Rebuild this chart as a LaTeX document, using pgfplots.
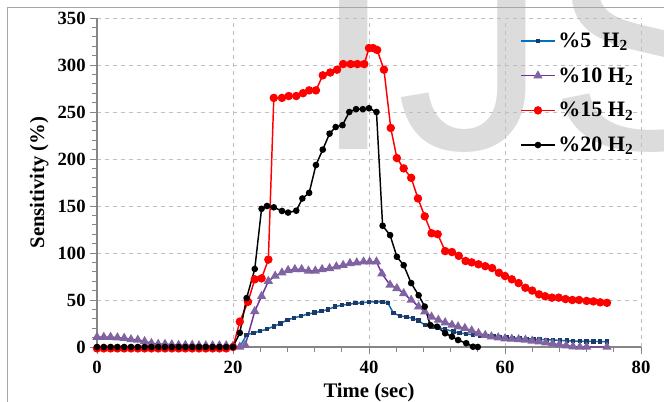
\documentclass[border=0pt]{standalone}
\usepackage{fontspec}
\setmainfont{Liberation Serif}
\setsansfont{Liberation Sans}
\usepackage{pgfplots}
\pgfplotsset{compat=1.18}
\definecolor{cblue}{HTML}{0070C0}
\definecolor{cnavy}{HTML}{1F3864}
\definecolor{cpurple}{HTML}{7030A0}
\definecolor{ctri}{HTML}{8064A2}
\definecolor{cgrid}{HTML}{BFBFBF}
\definecolor{caxis}{HTML}{868686}
\definecolor{cmark}{HTML}{DCDCDC}

\begin{document}
\begin{tikzpicture}
\useasboundingbox (0,0) rectangle (498pt,301.5pt);
% watermark behind the chart
\node[anchor=base west, inner sep=0pt, text=cmark,
      font=\fontsize{228}{228}\selectfont\sffamily] at (233.5pt,189pt) {IJS};
\draw[gray!70, line width=0.6pt] (5.25pt,-10pt) -- (5.25pt,296.25pt) -- (510pt,296.25pt);

\begin{axis}[
    at={(72.75pt,41.25pt)}, anchor=south west,
    scale only axis,
    width=408pt, height=246.75pt,
    xmin=0, xmax=80, ymin=0, ymax=350,
    xtick={0,20,...,80}, ytick={0,50,...,350},
    minor x tick num=4, minor y tick num=4,
    axis lines*=left,
    axis line style={caxis, line width=0.8pt, -},
    tick style={caxis, line width=0.6pt},
    tick align=outside,
    major tick length=5pt, minor tick length=3.5pt,
    grid=major,
    major grid style={cgrid, dashed, line width=0.5pt},
    clip=false,
    /pgf/number format/assume math mode=true,
    every tick label/.append style={font=\fontsize{14}{14}\selectfont\bfseries},
    xticklabel style={yshift=-2pt},
    xlabel={Time (sec)}, ylabel={Sensitivity (\%)},
    label style={font=\fontsize{15.5}{16}\selectfont\bfseries},
    xlabel style={yshift=0pt},
    legend cell align=left,
    legend style={at={(0.77,0.972)}, anchor=north west, draw=none, fill=none,
        font=\fontsize{16.5}{17}\selectfont\bfseries, row sep=9.5pt},
    legend image code/.code={\draw[mark repeat=2, mark phase=2]
        plot coordinates {(0cm,0cm) (0.45cm,0cm) (0.9cm,0cm)};},
]
% %5 H2
\addplot[cblue, line width=1.1pt, mark=square*, mark size=1.1pt, mark options={cnavy, solid}]
coordinates {
(0,0) (1,0) (2,0) (3,0) (4,0) (5,0) (6,0) (7,0) (8,0) (9,0) (10,0)
(11,0) (12,0) (13,0) (14,0) (15,0) (16,0) (17,0) (18,0) (19,0) (20,0) (21,0)
(22,13) (23,15) (24,17) (25,19) (26,22) (27,25) (28,29) (29,31) (30,33)
(31,35) (32,36.5) (33,38) (34,40) (35,43) (36,44.5) (37,45.5) (38,46.5)
(39,47) (40,48) (41,48) (42,48) (42.8,46.5) (43.6,36) (44.6,33) (45.5,32)
(46.5,30.5) (47.3,28) (48.2,23.4) (49.2,21.6) (50.2,20.5) (51.2,19)
(52.4,16.3) (53.3,15) (54.3,14) (55.3,12.8) (56.3,12) (57.3,11.5)
(58.3,11) (59.2,10.5) (60.2,10) (61.2,9.6) (62.2,9.2) (63.2,8.8)
(64.2,8.4) (65.1,8) (66.1,7.7) (67.1,7.4) (68.1,7) (69.1,6.7) (70,6.4)
(71,6.2) (72,6) (73,5.9) (74,5.8) (75,5.7)
};
\addlegendentry{\%5\ \ H\textsubscript{2}}
% %10 H2
\addplot[cpurple, line width=1.1pt, mark=triangle*, mark size=3pt, mark options={ctri, solid}]
coordinates {
(0,10.5) (1,10.5) (2,10.5) (3,10) (4,9.5) (5,8) (6,7.5) (7,6) (8,4)
(9,3) (10,3) (11,2.5) (12,2) (13,2) (14,2) (15,1.5) (16,1.5) (17,1.5)
(18,1.5) (19,1.5) (20,1) (21,0) (21.8,2) (23.2,38) (24.2,54) (25.2,70)
(26.2,75.6) (27.2,79) (28.1,81.6) (29.1,82.6) (30.1,82.6) (31.1,81)
(32.1,81) (33.1,82.6) (34.2,83.7) (35.2,85.5) (36.2,87) (37.2,89)
(38.2,89.7) (39.2,90.7) (40.1,90.7) (41.1,90.7) (41.9,78) (43.1,66)
(44.1,62.4) (45.1,57) (46.2,50) (47.3,43) (48.2,37.6) (49.2,32)
(50.2,28.7) (51.2,26) (52.2,23.4) (53.1,21.6) (54.1,20) (55.1,17.4)
(56.1,14.6) (57.1,12.5) (58,11) (59,10) (60,9) (61,8.5) (62,8) (63,7.5)
(64,6.5) (65,5.6) (66,4.5) (67,3.5) (68,2.5) (69,1.5) (70,0.5) (71,0)
(72,0) (75,0)
};
\addlegendentry{\%10 H\textsubscript{2}}
% %15 H2
\addplot[red, line width=1.1pt, mark=*, mark size=2.6pt, mark options={solid}]
coordinates {
(0,-1.5) (1,-1.5) (2,-1.5) (3,-1.5) (4,-1.5) (5,-1.5) (6,-1.5) (7,-1.5)
(8,-1.5) (9,-1.5) (10,-1.5) (11,-1.5) (12,-1.5) (13,-1.5) (14,-1.5)
(15,-1.5) (16,-1.5) (17,-1.5) (18,-1.5) (19,-1.5) (20,0) (21,27)
(22.2,48) (23.2,72) (24.2,73) (25.2,93) (26,265) (27.2,265) (28.2,267)
(29.3,267) (30.3,270) (31.2,273) (32.2,273) (33.2,289) (34.3,292)
(35.3,295) (36.2,301) (37.3,301) (38.3,301) (39.3,301) (40,318)
(40.6,318) (41.2,316) (42.2,295) (43.2,233) (44.1,201) (45.1,190)
(46.2,180) (47.2,158) (48.2,139) (49.2,121) (50.1,120) (51.2,102)
(52.2,101) (53.2,97) (54.2,91.5) (55.1,90) (56.1,88) (57.1,86) (58.1,84)
(59.1,79) (60,75.5) (61,72) (62,68) (63,63) (64,60) (65,56) (65.9,54)
(66.9,52.5) (67.9,52.5) (68.9,51) (69.9,50) (70.9,50) (72,49) (73,48.5)
(74,47.5) (75,47)
};
\addlegendentry{\%15 H\textsubscript{2}}
% %20 H2
\addplot[black, line width=1.1pt, mark=*, mark size=1.9pt, mark options={solid}]
coordinates {
(0,0) (1,0) (2,0) (3,0) (4,0) (5,0) (6,0) (7,0) (8,0) (9,0) (10,0)
(11,0) (12,0) (13,0) (14,0) (15,0) (16,0) (17,0) (18,0) (19,0) (20,0)
(21,15) (22,52) (23.2,83) (24.2,147) (25,150) (26,148.6) (27.2,144.7)
(28.1,143) (29.3,145) (30.2,158) (31.2,164) (32.2,193.6) (33.2,210)
(34.2,227) (35.1,234) (36.1,236) (37.1,250) (38.1,253) (39.1,253)
(40,254) (41.1,250) (42,129) (43.1,119) (44.1,96) (45.1,87) (46.2,68)
(47.3,55) (48.2,43) (49,23.4) (50,21.6) (51.2,14.6) (52.2,11) (53.1,7.4)
(54.3,4) (55.3,0.3) (56,0)
};
\addlegendentry{\%20 H\textsubscript{2}}
\end{axis}
\end{tikzpicture}
\end{document}
